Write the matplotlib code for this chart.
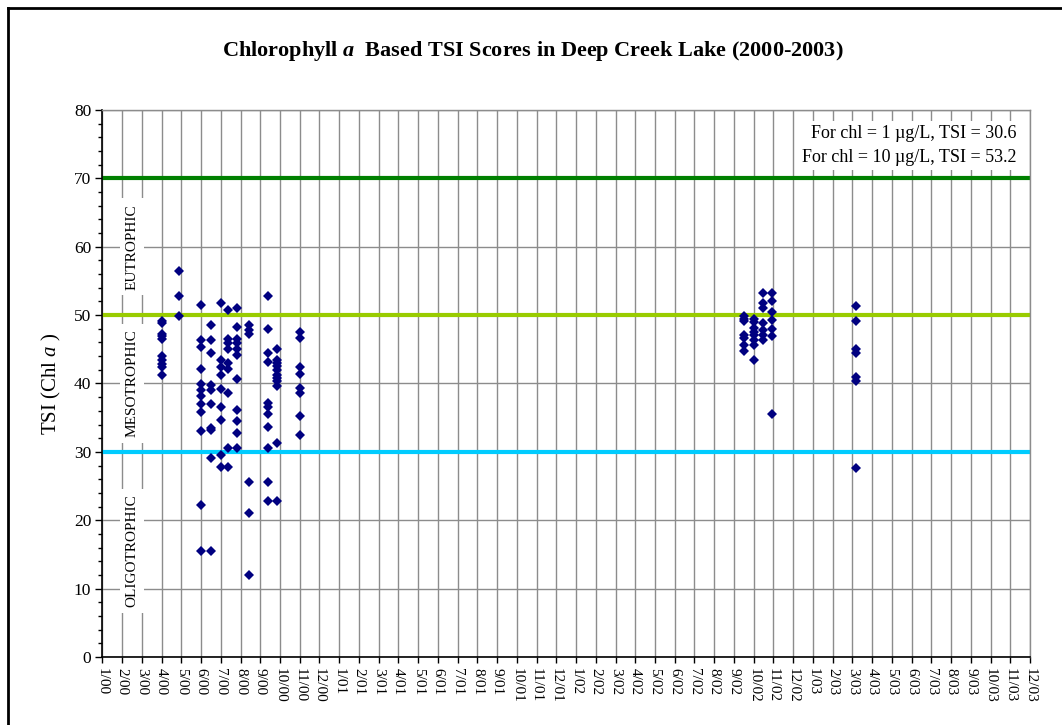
import matplotlib
matplotlib.use("Agg")
import matplotlib.pyplot as plt
import pandas as pd
from matplotlib.lines import Line2D
from matplotlib.ticker import FixedLocator, MultipleLocator

plt.rcParams.update({
    "font.family":       "Liberation Serif",
    "mathtext.fontset":  "custom",
    "mathtext.rm":       "Liberation Serif",
    "mathtext.it":       "Liberation Serif:italic",
    "mathtext.bf":       "Liberation Serif:bold",
    "mathtext.bfit":     "Liberation Serif:italic:bold",
})

# ── Data: sampling dates and TSI scores ──────────────────────────────────
sample_dates = [
    "2000-04-01", "2000-04-27", "2000-06-01", "2000-06-16", "2000-07-01",
    "2000-07-12", "2000-07-27", "2000-08-15", "2000-09-12", "2000-09-26",
    "2000-11-01", "2002-09-16", "2002-10-02", "2002-10-16", "2002-10-30",
    "2003-03-06",
]
tsi_values = [
    [49.1, 48.8, 47.2, 46.9, 46.5, 44.0, 43.4, 42.9, 42.4, 41.3],
    [56.5, 52.8, 49.9],
    [51.5, 46.3, 45.3, 42.1, 39.9, 39.1, 38.1, 37.0, 35.9, 33.1, 22.2, 15.5],
    [48.5, 46.3, 44.5, 39.8, 39.1, 37.0, 33.5, 33.2, 29.1, 15.5],
    [51.8, 43.5, 42.4, 41.2, 39.2, 36.5, 34.6, 29.6, 27.8],
    [50.7, 46.5, 45.9, 45.0, 43.0, 42.1, 38.6, 30.6, 27.8],
    [51.0, 48.2, 46.5, 45.9, 45.1, 44.2, 40.6, 36.1, 34.5, 32.8, 30.6],
    [48.5, 47.8, 47.3, 25.6, 21.0, 12.0],
    [52.8, 47.9, 44.4, 43.2, 37.2, 36.6, 35.5, 33.6, 30.6, 25.6, 22.8],
    [45.0, 43.5, 43.0, 42.5, 42.0, 41.2, 40.8, 40.3, 39.6, 31.3, 22.8],
    [47.6, 46.6, 42.4, 41.4, 39.3, 38.6, 35.3, 32.4],
    [49.9, 49.5, 49.2, 47.1, 46.6, 45.7, 44.8],
    [49.5, 49.0, 48.1, 47.6, 47.1, 46.4, 45.6, 43.5],
    [53.3, 51.8, 51.1, 48.9, 47.8, 47.1, 46.3],
    [53.3, 52.0, 50.5, 49.3, 47.9, 46.9, 35.5],
    [51.3, 49.1, 45.0, 44.4, 40.9, 40.3, 27.7],
]

month_labels = [f"{m % 12 + 1}/{m // 12:02d}" for m in range(48)]

thresholds       = [70, 50, 30]
threshold_colors = ["#008000", "#99CC00", "#00CCFF"]
band_names       = ["EUTROPHIC", "MESOTROPHIC", "OLIGOTROPHIC"]
band_centers     = [60, 40, 15.5]

note_lines = ["For chl = 1 \u00b5g/L, TSI = 30.6",
              "For chl = 10 \u00b5g/L, TSI = 53.2"]


def month_pos(date_str):
    """Months since Jan 2000 (Excel-like date axis with monthly units)."""
    d = pd.Timestamp(date_str)
    return (d.year - 2000) * 12 + d.month - 1 + (d.day - 1) / d.days_in_month


xs, ys = [], []
for date, vals in zip(sample_dates, tsi_values):
    xs += [month_pos(date)] * len(vals)
    ys += vals

# ── Figure ────────────────────────────────────────────────────────────────
fig = plt.figure(figsize=(10.62, 7.25), dpi=100)
ax = fig.add_axes([0.0964, 0.0938, 0.8735, 0.7545])

# chart-area frame (only left and top visible in the crop)
fig.add_artist(Line2D([0.0075, 0.0075], [0, 0.989], color="black", lw=2,
                      transform=fig.transFigure))
fig.add_artist(Line2D([0.0075, 1.0], [0.989, 0.989], color="black", lw=2,
                      transform=fig.transFigure))

ax.set_xlim(0, 47)
ax.set_ylim(0, 80)

ax.xaxis.set_major_locator(FixedLocator(range(48)))
ax.set_xticklabels(month_labels, rotation=270, ha="center", va="top",
                   fontsize=11)
ax.yaxis.set_major_locator(MultipleLocator(10))
ax.yaxis.set_minor_locator(MultipleLocator(2))
ax.tick_params(axis="y", which="major", length=5, width=1, labelsize=12.5, pad=3)
ax.tick_params(axis="y", which="minor", length=3, width=1)
ax.tick_params(axis="x", which="major", length=4, width=1, pad=4)

ax.grid(axis="both", which="major", color="#8c8c8c", lw=1.0, zorder=0)
ax.set_axisbelow(True)

for side in ["top", "right"]:
    ax.spines[side].set_color("#8c8c8c")
    ax.spines[side].set_linewidth(1.0)
for side in ["left", "bottom"]:
    ax.spines[side].set_color("black")
    ax.spines[side].set_linewidth(1.2)

for level, col in zip(thresholds, threshold_colors):
    ax.axhline(level, color=col, lw=3, zorder=2)

for name, yc in zip(band_names, band_centers):
    ax.text(1.5, yc, name, rotation=90, ha="center", va="center",
            fontsize=11, zorder=3,
            bbox=dict(facecolor="white", edgecolor="none", pad=4))

ax.plot(xs, ys, linestyle="none", marker="D", markersize=4.6,
        color="#000080", markeredgewidth=0, zorder=4)

ax.text(46.33, 74.8, "\n".join(note_lines), ha="right", va="center",
        fontsize=13, linespacing=1.55, zorder=3,
        bbox=dict(facecolor="white", edgecolor="none", pad=3))

ax.set_ylabel("TSI (Chl $a$ )", fontsize=15, labelpad=8)
fig.text(0.502, 0.929,
         r"Chlorophyll $\mathbfit{a}$  Based TSI Scores in Deep Creek Lake (2000-2003)",
         ha="center", va="center", fontsize=16, fontweight="bold")

fig.savefig("out.png", dpi=100, facecolor="white")
